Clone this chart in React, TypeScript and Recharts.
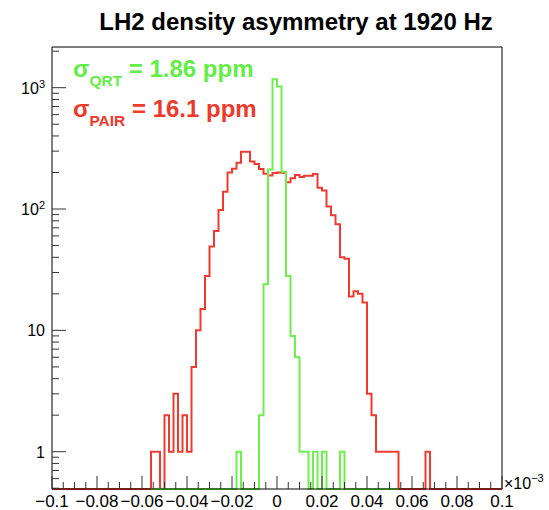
import React from "react";
import { ComposedChart, Line, XAxis, YAxis, ReferenceLine } from "recharts";

// Histogram binning: 100 bins from -0.1 to 0.1 (x 10^-3)
const BIN_LO = -0.1;
const BIN_W = 0.002;

// Counts per bin, pair asymmetry (red)
const PAIR_COUNTS = [
    0, 0, 0, 0, 0, 0, 0, 0, 0, 0,
    0, 0, 0, 0, 0, 0, 0, 0, 0, 0,
    0, 0, 1, 1, 0, 2, 1, 3, 1, 2,
    1, 5, 10, 15, 28, 49, 66, 98, 139, 200,
    215, 241, 297, 297, 246, 235, 214, 195, 189, 198,
    200, 199, 166, 179, 191, 184, 188, 188, 194, 150,
    142, 105, 89, 75, 40, 39, 19, 21, 20, 17,
    3, 2, 1, 1, 1, 1, 1, 0, 0, 0,
    0, 0, 0, 1, 0, 0, 0, 0, 0, 0,
    0, 0, 0, 0, 0, 0, 0, 0, 0, 0,
];

// Counts per bin, quartet asymmetry (green); null = outside its drawn range
const QRT_COUNTS: (number | null)[] = [
    null, null, null, null, null, null, null, null, null, null,
    null, null, null, null, null, null, null, null, null, null,
    null, null, 0, 0, 0, 0, 0, 0, 0, 0,
    0, 0, 0, 0, 0, 0, 0, 0, 0, 0,
    0, 1, 0, 0, 0, 0, 2, 24, 212, 1175,
    1021, 203, 28, 9, 6, 1, 1, 0, 1, 0,
    1, 0, 0, 0, 1, 0, 0, 0, 0, 0,
    0, 0, 0, 0, 0, 0, 0, null, null, null,
    null, null, null, null, null, null, null, null, null, null,
    null, null, null, null, null, null, null, null, null, null,
];

const X_MAJOR = [-0.1, -0.08, -0.06, -0.04, -0.02, 0, 0.02, 0.04, 0.06, 0.08, 0.1];
const X_LABELS = ["−0.1", "−0.08", "−0.06", "−0.04", "−0.02", "0", "0.02", "0.04", "0.06", "0.08", "0.1"];
const X_TICKS = Array.from({ length: 41 }, (_, i) => +(BIN_LO + i * 0.005).toFixed(3));

const Y_MAJOR = [1, 10, 100, 1000];
const Y_LABEL_BASE = ["1", "10", "10", "10"];
const Y_LABEL_EXP = ["", "", "2", "3"];
const Y_TICKS = [
    0.5, 0.6, 0.7, 0.8, 0.9, 1, 2, 3, 4, 5, 6, 7, 8, 9, 10,
    20, 30, 40, 50, 60, 70, 80, 90, 100, 200, 300, 400, 500, 600, 700, 800, 900, 1000, 2000,
];

const X_MIN = -0.1;
const X_MAX = 0.1;
const Y_MIN = 0.4926;
const Y_MAX = 2165;

const COLORS = {
    pair: "#f03a30",
    qrt: "#6cf04c",
    pairText: "#ee3a2a",
    qrtText: "#62ee45",
    axis: "#000",
    tick: "#333",
};

const FONT = '"Liberation Sans", Arial, Helvetica, sans-serif';

const W = 549;
const H = 510;
const PLOT_LEFT = 52;
const PLOT_RIGHT = 502;
const PLOT_TOP = 47;
const PLOT_BOTTOM = 489;

// empty bins sit on the bottom of the log axis, like ROOT does
const toPlot = (v: number | null) => (v === null ? null : v === 0 ? Y_MIN : v);

const rows = Array.from({ length: PAIR_COUNTS.length + 1 }, (_, i) => {
    const pair = i < PAIR_COUNTS.length ? PAIR_COUNTS[i] : PAIR_COUNTS[i - 1];
    let qrt = i < QRT_COUNTS.length ? QRT_COUNTS[i] : null;
    if (qrt === null && i > 0 && QRT_COUNTS[i - 1] !== null) qrt = QRT_COUNTS[i - 1];
    return {
        x: +(BIN_LO + i * BIN_W).toFixed(4),
        pair: toPlot(pair),
        qrt: toPlot(qrt),
    };
});

const XTick = (props: any) => {
    const { x, payload } = props;
    const idx = X_MAJOR.findIndex((m) => Math.abs(m - payload.value) < 1e-9);
    const len = idx >= 0 ? 13 : 7;
    return (
        <g>
            <line x1={x} x2={x} y1={PLOT_BOTTOM} y2={PLOT_BOTTOM - len} stroke={COLORS.tick} />
            {idx >= 0 && (
                <text x={x} y={506.5} textAnchor="middle" fontSize={17} fontFamily={FONT} fill="#000">
                    {X_LABELS[idx]}
                </text>
            )}
        </g>
    );
};

const YTick = (props: any) => {
    const { y, payload } = props;
    const idx = Y_MAJOR.indexOf(payload.value);
    const len = idx >= 0 ? 14 : 7;
    return (
        <g>
            <line x1={PLOT_LEFT} x2={PLOT_LEFT + len} y1={y} y2={y} stroke={COLORS.tick} />
            {idx >= 0 && (
                <text x={45} y={y + 6} textAnchor="end" fontSize={16} fontFamily={FONT} fill="#000">
                    {Y_LABEL_BASE[idx]}
                    {Y_LABEL_EXP[idx] && (
                        <tspan dy={-6} fontSize={11}>
                            {Y_LABEL_EXP[idx]}
                        </tspan>
                    )}
                </text>
            )}
        </g>
    );
};

export default function App() {
    return (
        <div style={{ position: "absolute", left: 0, top: 0, width: W, height: H, background: "#fff" }}>
            <ComposedChart
                width={W}
                height={H}
                data={rows}
                margin={{ top: PLOT_TOP, right: W - PLOT_RIGHT, bottom: 0, left: 0 }}
            >
                <XAxis
                    dataKey="x"
                    type="number"
                    domain={[X_MIN, X_MAX]}
                    ticks={X_TICKS}
                    interval={0}
                    height={H - PLOT_BOTTOM}
                    tickLine={false}
                    axisLine={{ stroke: COLORS.axis }}
                    tick={XTick}
                />
                <YAxis
                    type="number"
                    scale="log"
                    domain={[Y_MIN, Y_MAX]}
                    ticks={Y_TICKS}
                    interval={0}
                    width={PLOT_LEFT}
                    tickLine={false}
                    axisLine={{ stroke: COLORS.axis }}
                    tick={YTick}
                />
                <ReferenceLine y={Y_MAX} stroke={COLORS.axis} />
                <ReferenceLine x={X_MAX} stroke={COLORS.axis} />
                <Line
                    dataKey="pair"
                    type="stepAfter"
                    stroke={COLORS.pair}
                    strokeWidth={2}
                    dot={false}
                    isAnimationActive={false}
                />
                <Line
                    dataKey="qrt"
                    type="stepAfter"
                    stroke={COLORS.qrt}
                    strokeWidth={2}
                    dot={false}
                    isAnimationActive={false}
                />
            </ComposedChart>
            <svg
                width={W}
                height={H}
                style={{ position: "absolute", left: 0, top: 0, pointerEvents: "none" }}
                fontFamily={FONT}
            >
                <text x={296} y={30} textAnchor="middle" fontSize={24} fontWeight="bold" fill="#000">
                    LH2 density asymmetry at 1920 Hz
                </text>
                <text x={73} y={77} fontSize={24} fontWeight="bold" fill={COLORS.qrtText}>
                    σ
                    <tspan dy={9} fontSize={15.5}>QRT</tspan>
                    <tspan dy={-9}> = 1.86 ppm</tspan>
                </text>
                <text x={73} y={117} fontSize={24} fontWeight="bold" fill={COLORS.pairText}>
                    σ
                    <tspan dy={9} fontSize={15.5}>PAIR</tspan>
                    <tspan dy={-9}> = 16.1 ppm</tspan>
                </text>
                <text x={504} y={489} fontSize={16} fill="#000">
                    ×10
                    <tspan dy={-7} fontSize={11}>−3</tspan>
                </text>
            </svg>
        </div>
    );
}
